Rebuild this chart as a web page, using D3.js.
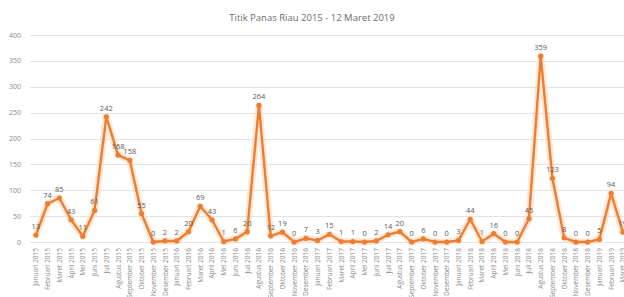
<!DOCTYPE html>
<html>
<head>
<meta charset="utf-8">
<script src="https://cdn.jsdelivr.net/npm/d3@7"></script>
<style>
  body { margin: 0; background: #fff; }
  svg { display: block; font-family: "Open Sans", "Liberation Sans", sans-serif; }
</style>
</head>
<body>
<script>
var title = "Titik Panas Riau 2015 - 12 Maret 2019";

var bulan = ["Januari", "Februari", "Maret", "April", "Mei", "Juni", "Juli",
             "Agustus", "September", "Oktober", "November", "Desember"];

var months = [];
[2015, 2016, 2017, 2018].forEach(function(y) {
  bulan.forEach(function(b) { months.push(b + " " + y); });
});
months.push("Januari 2019", "Februari 2019", "Maret 2019");

var hotspots = [
  13, 74, 85, 43, 11, 61, 242, 168, 158, 55, 0, 2,
  2, 20, 69, 43, 1, 6, 20, 264, 12, 19, 0, 7,
  3, 15, 1, 1, 0, 2, 14, 20, 0, 6, 0, 0,
  3, 44, 1, 16, 0, 0, 45, 359, 123, 8, 0, 0,
  5, 94, 19
];

var yTicks = [0, 50, 100, 150, 200, 250, 300, 350, 400];

var width = 624, height = 297;
var plotLeft = 30, plotTop = 35, plotBottom = 242;

var svg = d3.select("body").append("svg")
    .attr("width", width)
    .attr("height", height);

var x = d3.scaleBand()
    .domain(months)
    .range([plotLeft, plotLeft + 11.74 * months.length]);

var y = d3.scaleLinear()
    .domain([0, 400])
    .range([plotBottom, plotTop]);

function cx(d, i) { return x(months[i]) + x.bandwidth() / 2; }

svg.append("text")
    .attr("x", width / 2)
    .attr("y", 21)
    .attr("text-anchor", "middle")
    .attr("font-size", 9.5)
    .attr("fill", "#6b6b6b")
    .text(title);

// gridlines
svg.append("g")
  .selectAll("line")
  .data(yTicks)
  .enter().append("line")
    .attr("x1", plotLeft)
    .attr("x2", width)
    .attr("y1", function(d) { return Math.round(y(d)) + 0.5; })
    .attr("y2", function(d) { return Math.round(y(d)) + 0.5; })
    .attr("stroke", "#e3e3e3")
    .attr("stroke-width", 1);

svg.append("g")
  .selectAll("text")
  .data(yTicks)
  .enter().append("text")
    .attr("x", 21)
    .attr("y", function(d) { return y(d) + 2.5; })
    .attr("text-anchor", "end")
    .attr("font-size", 7)
    .attr("fill", "#8a8a8a")
    .text(function(d) { return d; });

// x labels
svg.append("g")
  .selectAll("text")
  .data(months)
  .enter().append("text")
    .attr("transform", function(d) {
      return "translate(" + (x(d) + x.bandwidth() / 2 + 2.5) + "," + 248 + ") rotate(-90)";
    })
    .attr("text-anchor", "end")
    .attr("font-size", 6.5)
    .attr("fill", "#8a8a8a")
    .text(function(d) { return d; });

var line = d3.line()
    .x(cx)
    .y(function(d) { return y(d); });

// glow
svg.append("path")
    .datum(hotspots)
    .attr("d", line)
    .attr("fill", "none")
    .attr("stroke", "#fbd9bd")
    .attr("stroke-opacity", 0.6)
    .attr("stroke-width", 7)
    .attr("stroke-linejoin", "round");

svg.append("path")
    .datum(hotspots)
    .attr("d", line)
    .attr("fill", "none")
    .attr("stroke", "#ed7d31")
    .attr("stroke-width", 2.4)
    .attr("stroke-linejoin", "round");

svg.append("g")
  .selectAll("circle")
  .data(hotspots)
  .enter().append("circle")
    .attr("cx", cx)
    .attr("cy", function(d) { return y(d); })
    .attr("r", 2.6)
    .attr("fill", "#ed7d31");

svg.append("g")
  .selectAll("text")
  .data(hotspots)
  .enter().append("text")
    .attr("x", cx)
    .attr("y", function(d) { return y(d) - 6; })
    .attr("text-anchor", "middle")
    .attr("font-size", 7.5)
    .attr("fill", "#5a5a5a")
    .text(function(d) { return d; });
</script>
</body>
</html>
